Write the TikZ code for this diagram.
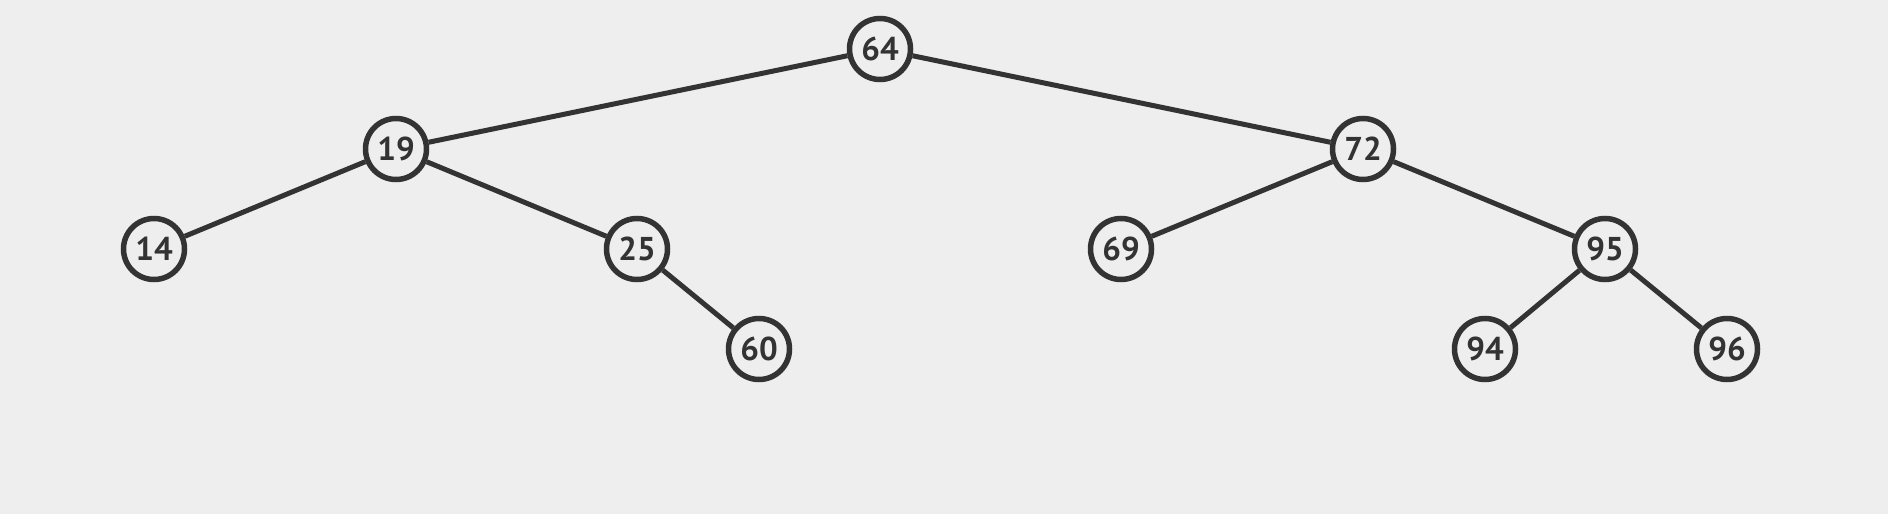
\documentclass[tikz,border=0pt]{standalone}
\usepackage{fontspec}
\setmainfont{PT Sans}
\definecolor{bg}{HTML}{EEEEEE}
\definecolor{ink}{HTML}{333333}
\tikzset{
  tnode/.style={circle,draw=ink,line width=5.5pt,fill=bg,minimum size=61pt,inner sep=0pt,text=ink,font=\bfseries\fontsize{33}{33}\selectfont},
  tedge/.style={draw=ink,line width=5pt}
}
\begin{document}
\begin{tikzpicture}[x=1pt,y=-1pt]
\fill[bg] (0,0) rectangle (1888,514);
\useasboundingbox (0,0) rectangle (1888,514);
\node[tnode] (n64) at (880,49) {64};
\node[tnode] (n19) at (396,149) {19};
\node[tnode] (n72) at (1363,149) {72};
\node[tnode] (n14) at (154,249) {14};
\node[tnode] (n25) at (637,249) {25};
\node[tnode] (n69) at (1121,249) {69};
\node[tnode] (n95) at (1605,249) {95};
\node[tnode] (n60) at (759,349) {60};
\node[tnode] (n94) at (1485,349) {94};
\node[tnode] (n96) at (1727,349) {96};
\draw[tedge] (n64) -- (n19);
\draw[tedge] (n64) -- (n72);
\draw[tedge] (n19) -- (n14);
\draw[tedge] (n19) -- (n25);
\draw[tedge] (n25) -- (n60);
\draw[tedge] (n72) -- (n69);
\draw[tedge] (n72) -- (n95);
\draw[tedge] (n95) -- (n94);
\draw[tedge] (n95) -- (n96);
\end{tikzpicture}
\end{document}
